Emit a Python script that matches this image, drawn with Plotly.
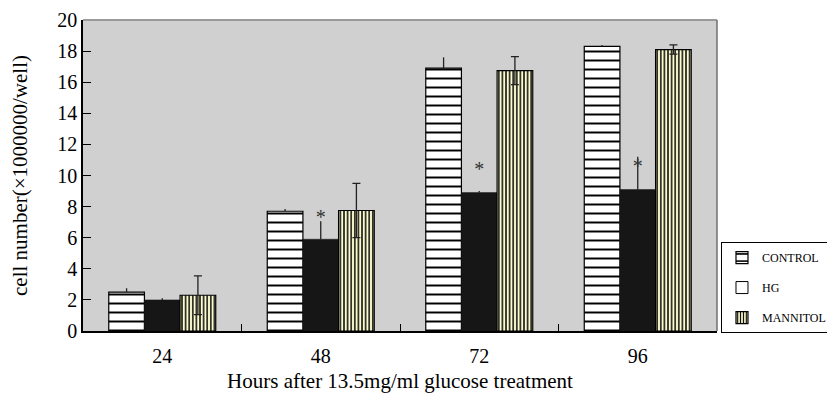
import plotly.graph_objects as go

hours = ["24", "48", "72", "96"]
control = [2.5, 7.7, 16.9, 18.3]
control_err = [0.25, 0.15, 0.7, 0.1]
hg = [2.0, 5.9, 8.9, 9.1]
hg_err = [0.1, 1.15, 0.1, 2.1]
mannitol = [2.3, 7.75, 16.75, 18.1]
mannitol_err = [1.25, 1.75, 0.9, 0.3]
star_hours = ["48", "72", "96"]
star_y = [7.2, 10.3, 10.5]

FONT = "Liberation Serif"

fig = go.Figure()
fig.add_trace(go.Bar(
    name="CONTROL", x=hours, y=control, offsetgroup="c", legendgroup="g1",
    marker=dict(color="white", line=dict(color="black", width=1.2),
                pattern=dict(shape="-", size=9, solidity=0.22, fgcolor="black",
                             bgcolor="white", fillmode="replace")),
    error_y=dict(type="data", array=control_err, arrayminus=[0]*4, symmetric=False,
                 color="#222", thickness=1.3, width=0),
))
fig.add_trace(go.Bar(
    name="HG", x=hours, y=hg, offsetgroup="h", showlegend=False, legendgroup="g2",
    marker=dict(color="#161616", line=dict(color="#161616", width=0.5)),
    error_y=dict(type="data", array=hg_err, arrayminus=[0]*4, symmetric=False,
                 color="#222", thickness=1.3, width=0),
))
fig.add_trace(go.Scatter(
    name="HG", x=[None], y=[None], mode="markers", legendgroup="g2",
    marker=dict(symbol="square", size=12, color="white", line=dict(color="black", width=1)),
))
fig.add_trace(go.Bar(
    name="MANNITOL", x=hours, y=mannitol, offsetgroup="m", legendgroup="g3",
    marker=dict(color="#fbfbd0", line=dict(color="black", width=1.2),
                pattern=dict(shape="|", size=3.6, solidity=0.4, fgcolor="black",
                             bgcolor="#fbfbd0", fillmode="replace")),
    error_y=dict(type="data", array=mannitol_err, color="#222", thickness=1.3, width=4),
))

fig.add_trace(go.Scatter(
    x=star_hours, y=star_y, mode="text", text=["*"] * len(star_hours),
    textfont=dict(family=FONT, size=20, color="#333"), showlegend=False,
    hoverinfo="skip",
))

fig.update_layout(
    width=827, height=394,
    margin=dict(l=75, r=118, t=12, b=71, autoexpand=False),
    paper_bgcolor="white", plot_bgcolor="#d0d0d0",
    barmode="group", bargap=0.325, bargroupgap=0,
    font=dict(family=FONT, size=20, color="black"),
    legend=dict(x=1.0063, y=0.286, xanchor="left", yanchor="top",
                bordercolor="black", borderwidth=1, bgcolor="white",
                font=dict(family=FONT, size=12, color="black"),
                traceorder="grouped", tracegroupgap=11,
                itemwidth=30),
    xaxis=dict(showline=True, linecolor="black", linewidth=1.5, automargin=False,
               ticks="inside", ticklen=7, tickson="boundaries", tickcolor="black",
               title=dict(text="Hours after 13.5mg/ml glucose treatment",
                          font=dict(family=FONT, size=21), standoff=8),
               ticklabelstandoff=6),
    yaxis=dict(range=[0, 20], dtick=2, showline=True, linecolor="black", linewidth=1.5,
               automargin=False,
               ticks="inside", ticklen=8, tickcolor="black", showgrid=False,
               zeroline=False,
               title=dict(text="cell number(×1000000/well)",
                          font=dict(family=FONT, size=21), standoff=24)),
    shapes=[
        dict(type="line", xref="paper", yref="paper", x0=0, x1=1, y0=1, y1=1,
             line=dict(color="#9a9a9a", width=2)),
        dict(type="line", xref="paper", yref="paper", x0=1, x1=1, y0=0, y1=1,
             line=dict(color="#707070", width=1.5)),
    ],
)

fig.write_html("out.html")
